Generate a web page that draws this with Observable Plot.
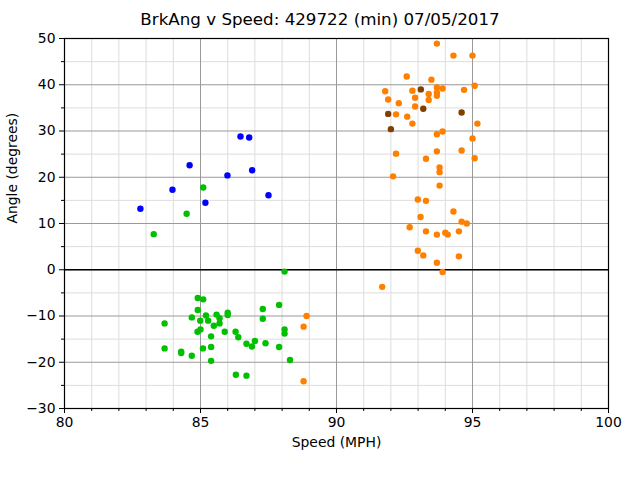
<!DOCTYPE html>
<html><head><meta charset="utf-8">
<script src="https://cdn.jsdelivr.net/npm/d3@7"></script>
<script src="https://cdn.jsdelivr.net/npm/@observablehq/plot@0.6"></script>
<style>
body{margin:0;background:#fff;font-family:"DejaVu Sans",sans-serif;}
#title{height:30px;line-height:38px;overflow:visible;text-align:center;width:640px;font-size:16.7px;color:#000;white-space:nowrap;}
#chart svg{display:block;}
</style></head><body>
<div id="title">BrkAng v Speed: 429722 (min) 07/05/2017</div>
<div id="chart"></div>
<script>
const xTicks = [80, 85, 90, 95, 100];
const xMinor = [81,82,83,84,86,87,88,89,91,92,93,94,96,97,98,99];
const yTicks = [-30, -20, -10, 0, 10, 20, 30, 40, 50];
const yMinor = [-25, -15, -5, 5, 15, 25, 35, 45];

const groups = ["S1", "S2", "S3", "S4"];
const groupColors = ["#0000ff", "#00c000", "#ff8000", "#804000"];

const blueSpeed = [82.79, 83.97, 84.6, 85.18, 85.99, 86.47, 86.79, 86.9, 87.5];
const blueAngle = [13.2, 17.3, 22.6, 14.5, 20.4, 28.8, 28.6, 21.5, 16.1];

const greenSpeed = [85.1, 84.49, 83.28, 88.09, 84.9, 85.1, 87.89, 87.29, 84.9, 84.68, 85.2, 85.59, 86.0, 86.0, 83.68, 84.99, 85.28, 85.7, 85.7, 85.49, 87.29, 84.89, 85.0, 85.89, 85.39, 86.29, 86.39, 88.09, 88.09, 86.69, 86.89, 87.0, 87.39, 87.89, 83.68, 84.29, 84.29, 84.68, 85.09, 85.39, 85.39, 88.29, 86.3, 86.69];
const greenAngle = [17.8, 12.1, 7.7, -0.4, -6.1, -6.4, -7.6, -8.5, -8.7, -10.3, -9.9, -9.7, -9.3, -9.8, -11.6, -11.0, -11.0, -10.5, -11.6, -12.1, -10.6, -13.4, -12.9, -13.4, -14.4, -13.4, -14.6, -12.9, -13.8, -16.0, -16.6, -15.4, -15.9, -16.7, -17.0, -17.7, -18.0, -18.6, -17.0, -16.7, -19.7, -19.5, -22.7, -22.9];

const orangeSpeed = [88.9, 88.79, 88.79, 93.69, 94.3, 95.0, 92.58, 93.49, 91.79, 92.79, 93.69, 93.9, 94.69, 95.08, 91.9, 92.29, 92.89, 93.39, 93.39, 93.69, 93.69, 92.89, 92.19, 92.6, 92.79, 95.18, 93.9, 93.69, 95.0, 92.19, 93.69, 94.6, 95.08, 93.29, 93.79, 93.79, 92.08, 93.79, 92.99, 93.29, 94.3, 93.09, 94.6, 94.79, 92.69, 93.29, 93.69, 94.0, 94.09, 94.5, 92.99, 93.19, 94.5, 93.69, 93.9, 91.68];
const orangeAngle = [-10.0, -12.3, -24.1, 48.9, 46.3, 46.3, 41.8, 41.1, 38.6, 38.7, 39.4, 39.2, 38.9, 39.8, 36.8, 36.0, 37.2, 38.0, 36.7, 38.3, 37.6, 35.3, 33.6, 33.1, 31.6, 31.6, 29.9, 29.3, 28.4, 25.1, 25.6, 25.8, 24.1, 24.0, 22.1, 21.1, 20.2, 18.2, 15.2, 14.9, 12.6, 11.4, 10.4, 10.0, 9.2, 8.3, 7.6, 8.0, 7.6, 8.3, 4.1, 3.1, 2.9, 1.5, -0.5, -3.7];

const brownSpeed = [93.1, 91.9, 93.19, 94.6, 92.0];
const brownAngle = [39.0, 33.7, 34.8, 34.0, 30.4];

const series = [
  ["S1", blueSpeed, blueAngle],
  ["S2", greenSpeed, greenAngle],
  ["S3", orangeSpeed, orangeAngle],
  ["S4", brownSpeed, brownAngle]
];
const points = series.flatMap(([g, xs, ys]) => xs.map((s, i) => ({group: g, speed: s, angle: ys[i]})));

const font = "'DejaVu Sans',sans-serif";
const fs = 13.9;
const chart = Plot.plot({
  width: 640,
  height: 450,
  marginLeft: 64,
  marginRight: 32,
  marginTop: 8,
  marginBottom: 72,
  style: {fontFamily: font, fontSize: fs + "px", background: "white", color: "black"},
  x: {domain: [80, 100], axis: null},
  y: {domain: [-30, 50], axis: null},
  color: {type: "ordinal", domain: groups, range: groupColors},
  marks: [
    Plot.ruleX(xMinor, {stroke: "#dddddd", strokeOpacity: 1}),
    Plot.ruleY(yMinor, {stroke: "#dddddd", strokeOpacity: 1}),
    Plot.ruleX(xTicks, {stroke: "#999999", strokeOpacity: 1}),
    Plot.ruleY(yTicks, {stroke: "#999999", strokeOpacity: 1}),
    Plot.ruleY([0], {stroke: "black", strokeWidth: 1.5}),
    Plot.frame({stroke: "black", strokeWidth: 1.2}),
    Plot.axisX(xTicks, {tickSize: 5, tickPadding: 4, fontSize: fs, stroke: "black", fill: "black", label: null}),
    Plot.axisX(xMinor, {tickSize: 3, tickFormat: () => "", stroke: "black", label: null}),
    Plot.axisY(yTicks, {tickSize: 5, tickPadding: 4, fontSize: fs, stroke: "black", fill: "black", label: null}),
    Plot.axisY(yMinor, {tickSize: 3, tickFormat: () => "", stroke: "black", label: null}),
    Plot.dot(points, {x: "speed", y: "angle", fill: "group", r: 3.2, stroke: null}),
    Plot.text(["Speed (MPH)"], {frameAnchor: "bottom", dy: 38, fontSize: fs, fill: "black"}),
    Plot.text(["Angle (degrees)"], {frameAnchor: "left", dx: -52, rotate: -90, fontSize: fs, fill: "black"})
  ]
});
document.getElementById("chart").appendChild(chart);
</script></body></html>
